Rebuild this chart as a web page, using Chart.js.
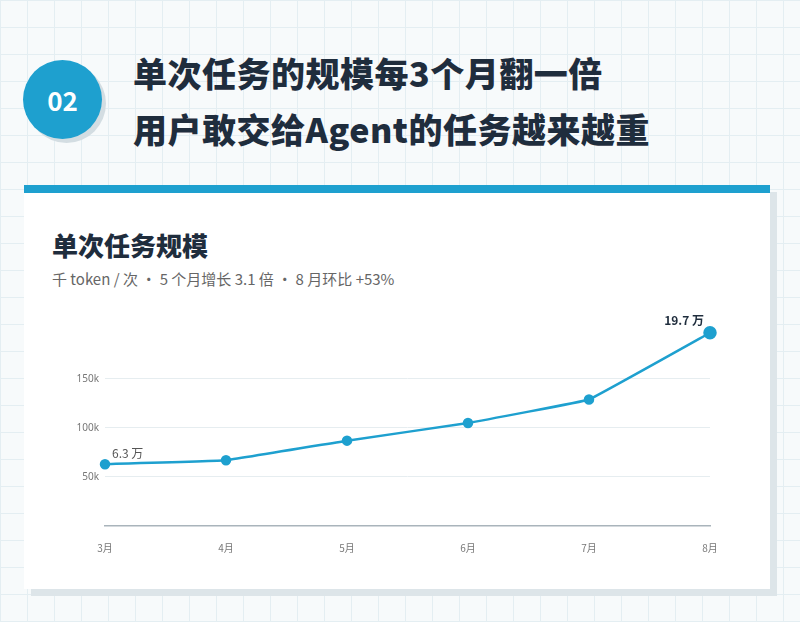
<!DOCTYPE html>
<html><head><meta charset="utf-8">
<script src="https://cdn.jsdelivr.net/npm/chart.js@4"></script>
<style>
body{margin:0;width:800px;height:622px;overflow:hidden;font-family:"Noto Sans CJK SC","Noto Sans",sans-serif;
background-color:#f7fafb;background-image:linear-gradient(#e4eef2 1px,transparent 1px),linear-gradient(90deg,#e4eef2 1px,transparent 1px);background-size:27px 27px;position:relative}
.badge{position:absolute;left:23px;top:60px;width:79px;height:79px;border-radius:50%;background:#1ea0cf;color:#fff;font-weight:700;font-size:26px;display:flex;align-items:center;justify-content:center;box-shadow:4px 4px 0 #d3dde2}
.h{position:absolute;left:133px;font-size:34px;font-weight:900;color:#1f2d3d;letter-spacing:0.5px}
.card{position:absolute;left:24px;top:185px;width:746px;height:404px;background:#fff;border-top:8px solid #1ea0cf;box-shadow:7px 7px 0 #dde5e9;box-sizing:border-box}
.t{position:absolute;left:52px;top:226px;font-size:26px;font-weight:800;color:#1f2d3d}
.s{position:absolute;left:52px;top:268px;font-size:15px;color:#666}
#c{position:absolute;left:55px;top:300px}
</style></head><body>
<div class="badge">02</div>
<div class="h" style="top:48px">单次任务的规模每3个月翻一倍</div>
<div class="h" style="top:104px">用户敢交给Agent的任务越来越重</div>
<div class="card"></div>
<div class="t">单次任务规模</div>
<div class="s">千 token / 次 · 5 个月增长 3.1 倍 · 8 月环比 +53%</div>
<canvas id="c" width="700" height="260" style="width:700px;height:260px"></canvas>
<script>
const months=["3月","4月","5月","6月","7月","8月"];
const tokens=[63000,67000,87000,105000,129000,197000];
const pointLabels=["6.3 万","","","","","19.7 万"];
const tickValues=[50000,100000,150000];
const labelPlugin={id:"lbl",afterDatasetsDraw(ch){const ctx=ch.ctx;const m=ch.getDatasetMeta(0);
 ctx.save();
 ctx.font="12px 'Noto Sans CJK SC'";ctx.fillStyle="#555";ctx.textAlign="left";ctx.textBaseline="bottom";
 ctx.fillText(pointLabels[0],m.data[0].x+7,m.data[0].y-5);
 ctx.font="bold 12px 'Noto Sans CJK SC'";ctx.fillStyle="#1f2d3d";ctx.textAlign="right";
 ctx.fillText(pointLabels[5],m.data[5].x-6,m.data[5].y-6);ctx.restore();}};
new Chart(document.getElementById("c"),{type:"line",
data:{labels:months,datasets:[{data:tokens,borderColor:"#1ea0cf",backgroundColor:"#1ea0cf",borderWidth:2.5,
 pointRadius:[4,4,4,4,4,5.5],pointHoverRadius:5,tension:0.05}]},
options:{responsive:false,animation:false,layout:{padding:{top:20,right:45}},
plugins:{legend:{display:false},tooltip:{enabled:false}},
scales:{x:{offset:false,grid:{display:false},border:{color:"#a9b4bb",width:1.5},
  ticks:{color:"#777",font:{size:10,family:"Noto Sans CJK SC"},padding:8},afterFit(s){s.height=34}},
 y:{min:0,max:210000,border:{display:false},grid:{color:c=>tickValues.includes(c.tick.value)?"#e6edf0":"transparent",drawTicks:false},
  afterBuildTicks(s){s.ticks=tickValues.map(v=>({value:v}))},
  ticks:{color:"#777",font:{size:10,family:"Noto Sans"},padding:6,callback:v=>v/1000+"k"},afterFit(s){s.width=50}}}},
plugins:[labelPlugin]});
</script></body></html>
